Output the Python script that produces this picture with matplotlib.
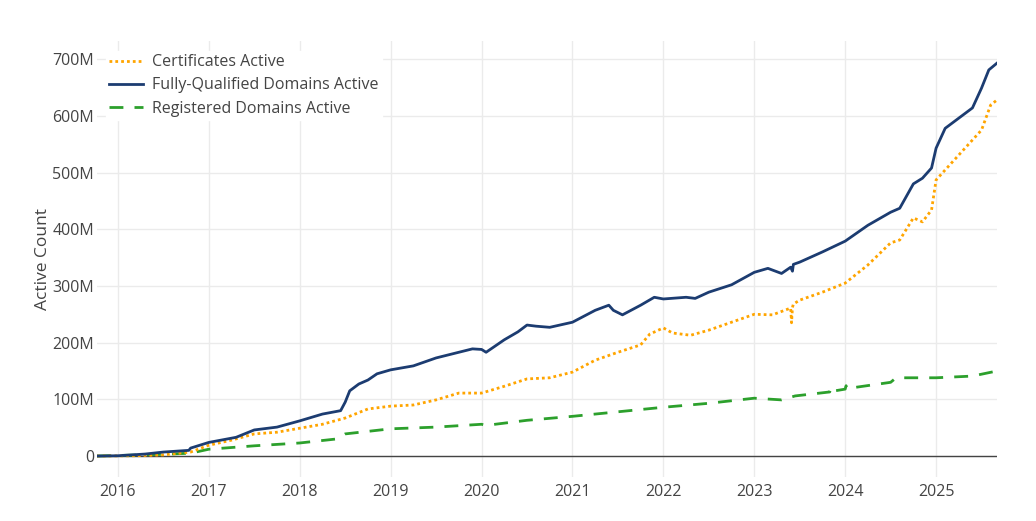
import numpy as np
import matplotlib.pyplot as plt
from matplotlib.ticker import FuncFormatter

# --- data (decimal years, millions) ---
fqdn_x = [2015.77, 2016.0, 2016.3, 2016.5, 2016.78, 2016.8, 2017.0, 2017.3, 2017.5, 2017.75,
          2018.0, 2018.25, 2018.45, 2018.5, 2018.55, 2018.65, 2018.75, 2018.85, 2019.0, 2019.25,
          2019.5, 2019.75, 2019.9, 2020.0, 2020.05, 2020.25, 2020.4, 2020.5, 2020.6, 2020.75,
          2021.0, 2021.25, 2021.4, 2021.45, 2021.55, 2021.75, 2021.9, 2022.0, 2022.25, 2022.35,
          2022.5, 2022.75, 2023.0, 2023.15, 2023.3, 2023.4, 2023.42, 2023.43, 2023.5, 2023.75,
          2024.0, 2024.25, 2024.5, 2024.6, 2024.75, 2024.85, 2024.95, 2025.0, 2025.1, 2025.25,
          2025.4, 2025.5, 2025.58, 2025.67]
fqdn_y = [0, 0.5, 3.5, 7, 10, 14, 24, 33, 46, 51,
          62, 74, 80, 95, 115, 127, 134, 145, 152, 159,
          173, 183, 189, 188, 183, 205, 219, 231, 229, 227,
          236, 257, 266, 257, 249, 266, 280, 277, 280, 278,
          289, 302, 324, 331, 322, 333, 326, 338, 342, 360,
          379, 407, 430, 437, 480, 490, 508, 543, 578, 596,
          614, 649, 681, 693]

cert_x = [2015.77, 2016.2, 2016.5, 2016.8, 2017.0, 2017.25, 2017.5, 2017.75, 2018.0, 2018.25,
          2018.5, 2018.75, 2019.0, 2019.25, 2019.5, 2019.75, 2020.0, 2020.25, 2020.5, 2020.75,
          2021.0, 2021.25, 2021.5, 2021.75, 2021.85, 2022.0, 2022.1, 2022.3, 2022.5, 2022.75,
          2023.0, 2023.2, 2023.4, 2023.41, 2023.42, 2023.43, 2023.5, 2023.75, 2024.0, 2024.25,
          2024.5, 2024.6, 2024.75, 2024.85, 2024.95, 2025.0, 2025.25, 2025.5, 2025.6, 2025.67]
cert_y = [0, 0.5, 2, 7, 19, 28, 39, 42, 49, 56,
          67, 83, 88, 90, 99, 111, 111, 123, 136, 138,
          148, 169, 183, 196, 215, 226, 217, 213, 222, 236,
          250, 249, 261, 235, 262, 268, 275, 289, 305, 337,
          376, 381, 420, 413, 434, 487, 531, 575, 619, 628]

reg_x = [2015.77, 2016.5, 2016.8, 2017.0, 2017.5, 2018.0, 2018.4, 2018.5, 2019.0, 2019.5,
         2020.0, 2020.05, 2020.5, 2021.0, 2021.5, 2022.0, 2022.5, 2023.0, 2023.3, 2023.45,
         2023.83, 2023.84, 2023.85, 2024.0, 2024.01, 2024.02, 2024.5, 2024.56, 2025.0, 2025.4,
         2025.67]
reg_y = [0, 3, 5, 12, 18, 23, 30, 39, 48, 51,
         56, 54, 63, 70, 78, 86, 93, 102, 99, 106,
         113, 120, 114, 118, 124, 119, 130, 138, 138, 141,
         150]

years = list(range(2016, 2026))
y_ticks = [0, 100, 200, 300, 400, 500, 600, 700]

# --- figure ---
plt.rcParams['font.family'] = ['Open Sans', 'DejaVu Sans']
fig = plt.figure(figsize=(10.36, 5.21), dpi=100)
ax = fig.add_axes([97 / 1036, 44 / 521, 900 / 1036, 436 / 521])

ax.plot(cert_x, cert_y, color='#ffa500', lw=2, ls=(0, (1, 1.1)), label='Certificates Active', zorder=3)
ax.plot(fqdn_x, fqdn_y, color='#1c3c71', lw=2, label='Fully-Qualified Domains Active', zorder=4)
ax.plot(reg_x, reg_y, color='#2ca02c', lw=2, ls=(0, (5, 4)), label='Registered Domains Active', zorder=2)

ax.set_xlim(2015.77, 2025.67)
ax.set_ylim(-37, 732)
ax.set_xticks(years)
ax.set_xticklabels([str(y) for y in years])
ax.set_yticks(y_ticks)
ax.yaxis.set_major_formatter(FuncFormatter(lambda v, p: '0' if v == 0 else f'{int(v)}M'))

ax.grid(True, color='#ebebeb', lw=1)
ax.set_axisbelow(True)
ax.axhline(0, color='#444444', lw=1, zorder=1)
for s in ax.spines.values():
    s.set_visible(False)
ax.tick_params(length=0, labelsize=11.5, colors='#444444')
ax.tick_params(axis='y', pad=2)
ax.tick_params(axis='x', pad=5)
ax.set_ylabel('Active Count', fontsize=12.5, color='#444444', labelpad=1)

leg = ax.legend(loc='upper left', bbox_to_anchor=(98 / 1036, 1 - 43 / 521), bbox_transform=fig.transFigure,
                frameon=True, fancybox=False, edgecolor='white', facecolor='white', framealpha=1,
                fontsize=11.5, handlelength=2.1, handletextpad=0.6, labelspacing=0.45, borderpad=0.2)
for t in leg.get_texts():
    t.set_color('#444444')

fig.savefig('out.png', dpi=100)
